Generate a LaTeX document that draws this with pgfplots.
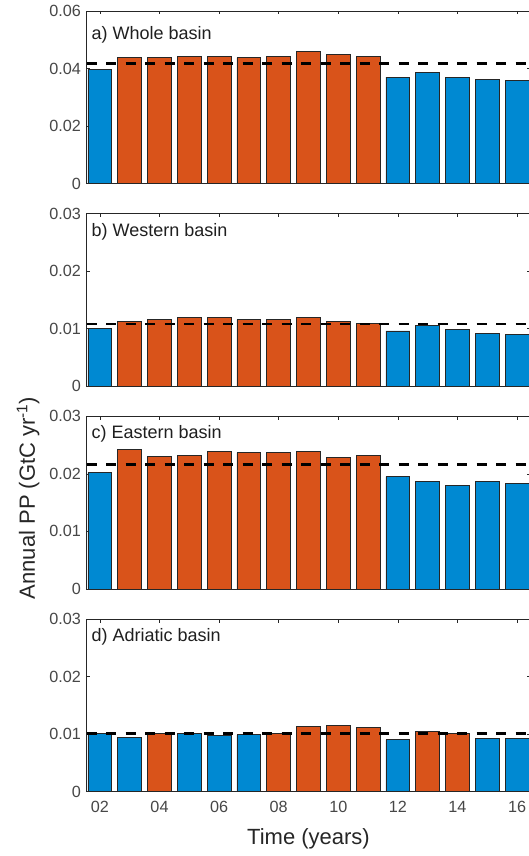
\documentclass[border=0pt]{standalone}
\usepackage{pgfplots}
\pgfplotsset{compat=1.18}
\usepackage{fontspec}
\setmainfont{Liberation Sans}
\definecolor{mblue}{RGB}{0,137,210}
\definecolor{morange}{RGB}{217,83,26}
\definecolor{axgray}{RGB}{38,38,38}
\pgfplotsset{
  panel/.style={
    scale only axis, width=444pt, height=172.5pt,
    anchor=north west,
    xmin=2001.55, xmax=2016.45,
    ymin=0,
    ybar, bar width=0.8, bar shift=0pt,
    xtick={2002,2004,...,2016},
    xticklabels={},
    scaled y ticks=false, scaled x ticks=false,
    tick align=inside,
    major tick length=3.5pt,
    axis line style={axgray, line width=0.8pt},
    every tick/.style={axgray, line width=0.8pt},
    tick label style={font=\fontsize{16.2}{16.2}\selectfont, text=black!72},
    yticklabel style={xshift=-2pt},
    xticklabel style={yshift=-6pt},
  },
  bblue/.style={fill=mblue, draw=black!85, line width=0.8pt},
  borange/.style={fill=morange, draw=black!85, line width=0.8pt},
  mean/.style={sharp plot, black, line width=2.8pt, dash pattern=on 10pt off 9.5pt, forget plot},
}
\tikzset{ptitle/.style={anchor=west, inner sep=0pt, font=\fontsize{18}{18}\selectfont, text=black!88}}
\begin{document}
\begin{tikzpicture}
\useasboundingbox (0,0) rectangle (528pt,-856pt);
% a) Whole basin
\begin{axis}[panel, at={(86.5pt,-11pt)}, ymax=0.06, ytick={0,0.02,0.04,0.06}, yticklabels={0,0.02,0.04,0.06}]
\addplot[bblue] coordinates {(2002,0.03954) (2012,0.0370) (2013,0.03873) (2014,0.0370) (2015,0.03619) (2016,0.03584)};
\addplot[borange] coordinates {(2003,0.04382) (2004,0.0438) (2005,0.04416) (2006,0.0442) (2007,0.0438) (2008,0.0442) (2009,0.0459) (2010,0.04474) (2011,0.0442)};
\addplot[mean] coordinates {(2001.55,0.0416) (2016.45,0.0416)};
\node[ptitle, xshift=5pt, yshift=-24pt] at (rel axis cs:0,1) {a) Whole basin};
\end{axis}
% b) Western basin
\begin{axis}[panel, at={(86.5pt,-213.7pt)}, ymax=0.03, ytick={0,0.01,0.02,0.03}, yticklabels={0,0.01,0.02,0.03}]
\addplot[bblue] coordinates {(2002,0.01002) (2012,0.00961) (2013,0.01049) (2014,0.00984) (2015,0.0092) (2016,0.00897)};
\addplot[borange] coordinates {(2003,0.0113) (2004,0.01159) (2005,0.01194) (2006,0.01194) (2007,0.01159) (2008,0.01159) (2009,0.01194) (2010,0.0113) (2011,0.01089)};
\addplot[mean] coordinates {(2001.55,0.01083) (2016.45,0.01083)};
\node[ptitle, xshift=5pt, yshift=-18.5pt] at (rel axis cs:0,1) {b) Western basin};
\end{axis}
% c) Eastern basin
\begin{axis}[panel, at={(86.5pt,-416.4pt)}, ymax=0.03, ytick={0,0.01,0.02,0.03}, yticklabels={0,0.01,0.02,0.03}]
\addplot[bblue] coordinates {(2002,0.02018) (2012,0.01953) (2013,0.01871) (2014,0.01807) (2015,0.01871) (2016,0.0183)};
\addplot[borange] coordinates {(2003,0.02427) (2004,0.02298) (2005,0.02322) (2006,0.02386) (2007,0.02368) (2008,0.02368) (2009,0.02386) (2010,0.02281) (2011,0.02322)};
\addplot[mean] coordinates {(2001.55,0.0217) (2016.45,0.0217)};
\node[ptitle, xshift=5pt, yshift=-17pt] at (rel axis cs:0,1) {c) Eastern basin};
\end{axis}
% d) Adriatic basin
\begin{axis}[panel, at={(86.5pt,-619.1pt)}, ymax=0.03, ytick={0,0.01,0.02,0.03}, yticklabels={0,0.01,0.02,0.03},
  xticklabels={02,04,06,08,10,12,14,16}]
\addplot[bblue] coordinates {(2002,0.0101) (2003,0.00946) (2005,0.01004) (2006,0.00969) (2007,0.00987) (2012,0.0090) (2015,0.00923) (2016,0.00923)};
\addplot[borange] coordinates {(2004,0.0101) (2008,0.01015) (2009,0.01131) (2010,0.01154) (2011,0.01113) (2013,0.01044) (2014,0.01004)};
\addplot[mean] coordinates {(2001.55,0.0101) (2016.45,0.0101)};
\node[ptitle, xshift=5pt, yshift=-17.7pt] at (rel axis cs:0,1) {d) Adriatic basin};
\end{axis}
\node[rotate=90, font=\fontsize{22}{22}\selectfont, text=black!85] at (28pt,-498pt) {Annual PP (GtC yr\textsuperscript{-1})};
\node[font=\fontsize{22}{22}\selectfont, text=black!85] at (308.5pt,-839pt) {Time (years)};
\end{tikzpicture}
\end{document}
